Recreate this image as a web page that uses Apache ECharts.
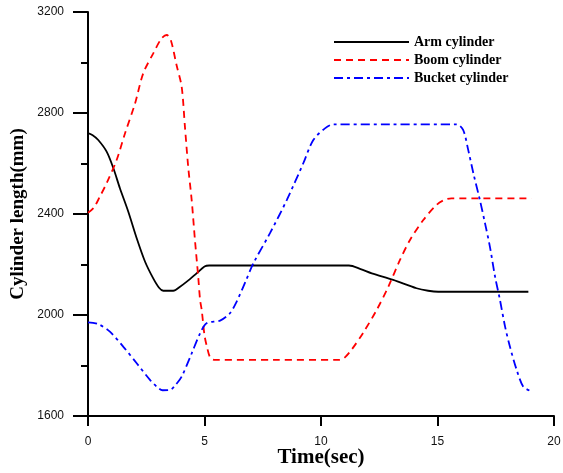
<!DOCTYPE html>
<html><head><meta charset="utf-8">
<script src="https://cdn.jsdelivr.net/npm/echarts@6/dist/echarts.min.js"></script>
<style>html,body{margin:0;padding:0;background:#fff}#c{width:563px;height:473px}</style>
</head><body><div id="c"></div>
<script>
const seriesNames = ['Arm cylinder', 'Boom cylinder', 'Bucket cylinder'];
const xTicks = [0, 5, 10, 15, 20];
const yTicks = [1600, 2000, 2400, 2800, 3200];

const armData = [
  [0,2720],[0.2,2712],[0.44,2693],[0.8,2647],[1.09,2581],[1.37,2502],[1.73,2409],[2.09,2304],
  [2.45,2211],[2.8,2145],[3.05,2108],[3.23,2096],[3.66,2096],[3.95,2112],[4.24,2132],[4.66,2165],[5.0,2192],
  [5.2,2196],[8,2196],[11.2,2196],[11.7,2182],[12.18,2165],[13.1,2139],[14.1,2106],[14.6,2096],
  [15.03,2092],[17,2092],[18.9,2092]
];
const boomData = [
  [0,2405],[0.25,2425],[0.51,2469],[0.8,2522],[1.23,2614],[1.59,2720],[2.02,2838],[2.37,2957],
  [2.8,3036],[3.16,3096],[3.38,3109],[3.55,3090],[3.8,2990],[4.02,2904],[4.16,2746],[4.3,2587],
  [4.45,2455],[4.59,2297],[4.73,2152],[4.81,2060],[4.88,2020],[5.0,1920],[5.09,1880],[5.25,1830],
  [5.45,1822],[8,1822],[10.8,1822],[11.0,1830],[11.3,1861],[11.8,1928],[12.39,2020],[12.89,2112],
  [13.39,2218],[13.82,2297],[14.39,2376],[14.96,2436],[15.3,2456],[15.6,2462],[17,2462],[19.04,2462]
];
const bucketData = [
  [0,1971],[0.44,1964],[0.94,1934],[1.52,1874],[2.09,1809],[2.66,1743],[3.0,1712],[3.2,1702],
  [3.52,1703],[3.75,1722],[4.02,1756],[4.45,1848],[4.81,1927],[5.09,1967],[5.67,1978],[6.09,2007],
  [6.38,2053],[6.75,2130],[7.1,2205],[7.81,2324],[8.53,2455],[9.24,2601],[9.67,2693],[10.17,2739],
  [10.53,2755],[13,2755],[15.82,2755],[16.1,2733],[16.32,2653],[16.54,2561],[16.82,2455],[17.04,2363],
  [17.25,2270],[17.47,2152],[17.68,2060],[17.9,1954],[18.11,1874],[18.4,1782],[18.68,1716],[18.97,1700]
];

const chart = echarts.init(document.getElementById('c'), null, {renderer: 'canvas'});
const axisFont = {fontFamily: 'Liberation Sans', fontSize: 12, color: '#111'};
const serif = {fontFamily: 'Liberation Serif', fontWeight: 'bold', color: '#000'};
chart.setOption({
  animation: false,
  backgroundColor: '#fff',
  grid: {left: 88, right: 9, top: 12, bottom: 57, outerBoundsMode: 'none', containLabel: false},
  legend: {
    orient: 'vertical', left: 328, top: 30, itemWidth: 75, itemHeight: 14, itemGap: 4,
    textStyle: Object.assign({fontSize: 14}, serif),
    itemStyle: {opacity: 0},
    data: seriesNames.map(n => ({name: n}))
  },
  xAxis: {
    type: 'value', min: xTicks[0], max: xTicks[xTicks.length - 1], interval: 5,
    name: 'Time(sec)', nameLocation: 'middle', nameGap: 31, nameMoveOverlap: false,
    nameTextStyle: Object.assign({fontSize: 21}, serif),
    axisLine: {show: true, lineStyle: {color: '#000', width: 2}},
    axisTick: {show: true, inside: false, length: 10, lineStyle: {color: '#000', width: 2}},
    axisLabel: Object.assign({margin: 20}, axisFont),
    splitLine: {show: false}
  },
  yAxis: {
    type: 'value', min: yTicks[0], max: yTicks[yTicks.length - 1], interval: 400,
    name: 'Cylinder length(mm)', nameLocation: 'middle', nameGap: 60, nameMoveOverlap: false,
    nameTextStyle: Object.assign({fontSize: 19}, serif),
    axisLine: {show: true, lineStyle: {color: '#000', width: 2}},
    axisTick: {show: true, inside: false, length: 15, lineStyle: {color: '#000', width: 2}},
    minorTick: {show: true, splitNumber: 2, length: 7, lineStyle: {color: '#000', width: 2}},
    axisLabel: Object.assign({margin: 24, formatter: v => String(v)}, axisFont),
    splitLine: {show: false}
  },
  series: [
    {name: seriesNames[0], type: 'line', data: armData, symbol: 'none', smooth: 0.3,
     lineStyle: {color: '#000', width: 1.8, type: 'solid'}, itemStyle: {color: '#000'}},
    {name: seriesNames[1], type: 'line', data: boomData, symbol: 'none', smooth: 0.3,
     lineStyle: {color: '#ff0000', width: 1.8, type: [7, 5]}, itemStyle: {color: '#ff0000'}},
    {name: seriesNames[2], type: 'line', data: bucketData, symbol: 'none', smooth: 0.3,
     lineStyle: {color: '#0000ff', width: 1.8, type: [9, 4, 3, 4]}, itemStyle: {color: '#0000ff'}}
  ]
});
</script></body></html>
